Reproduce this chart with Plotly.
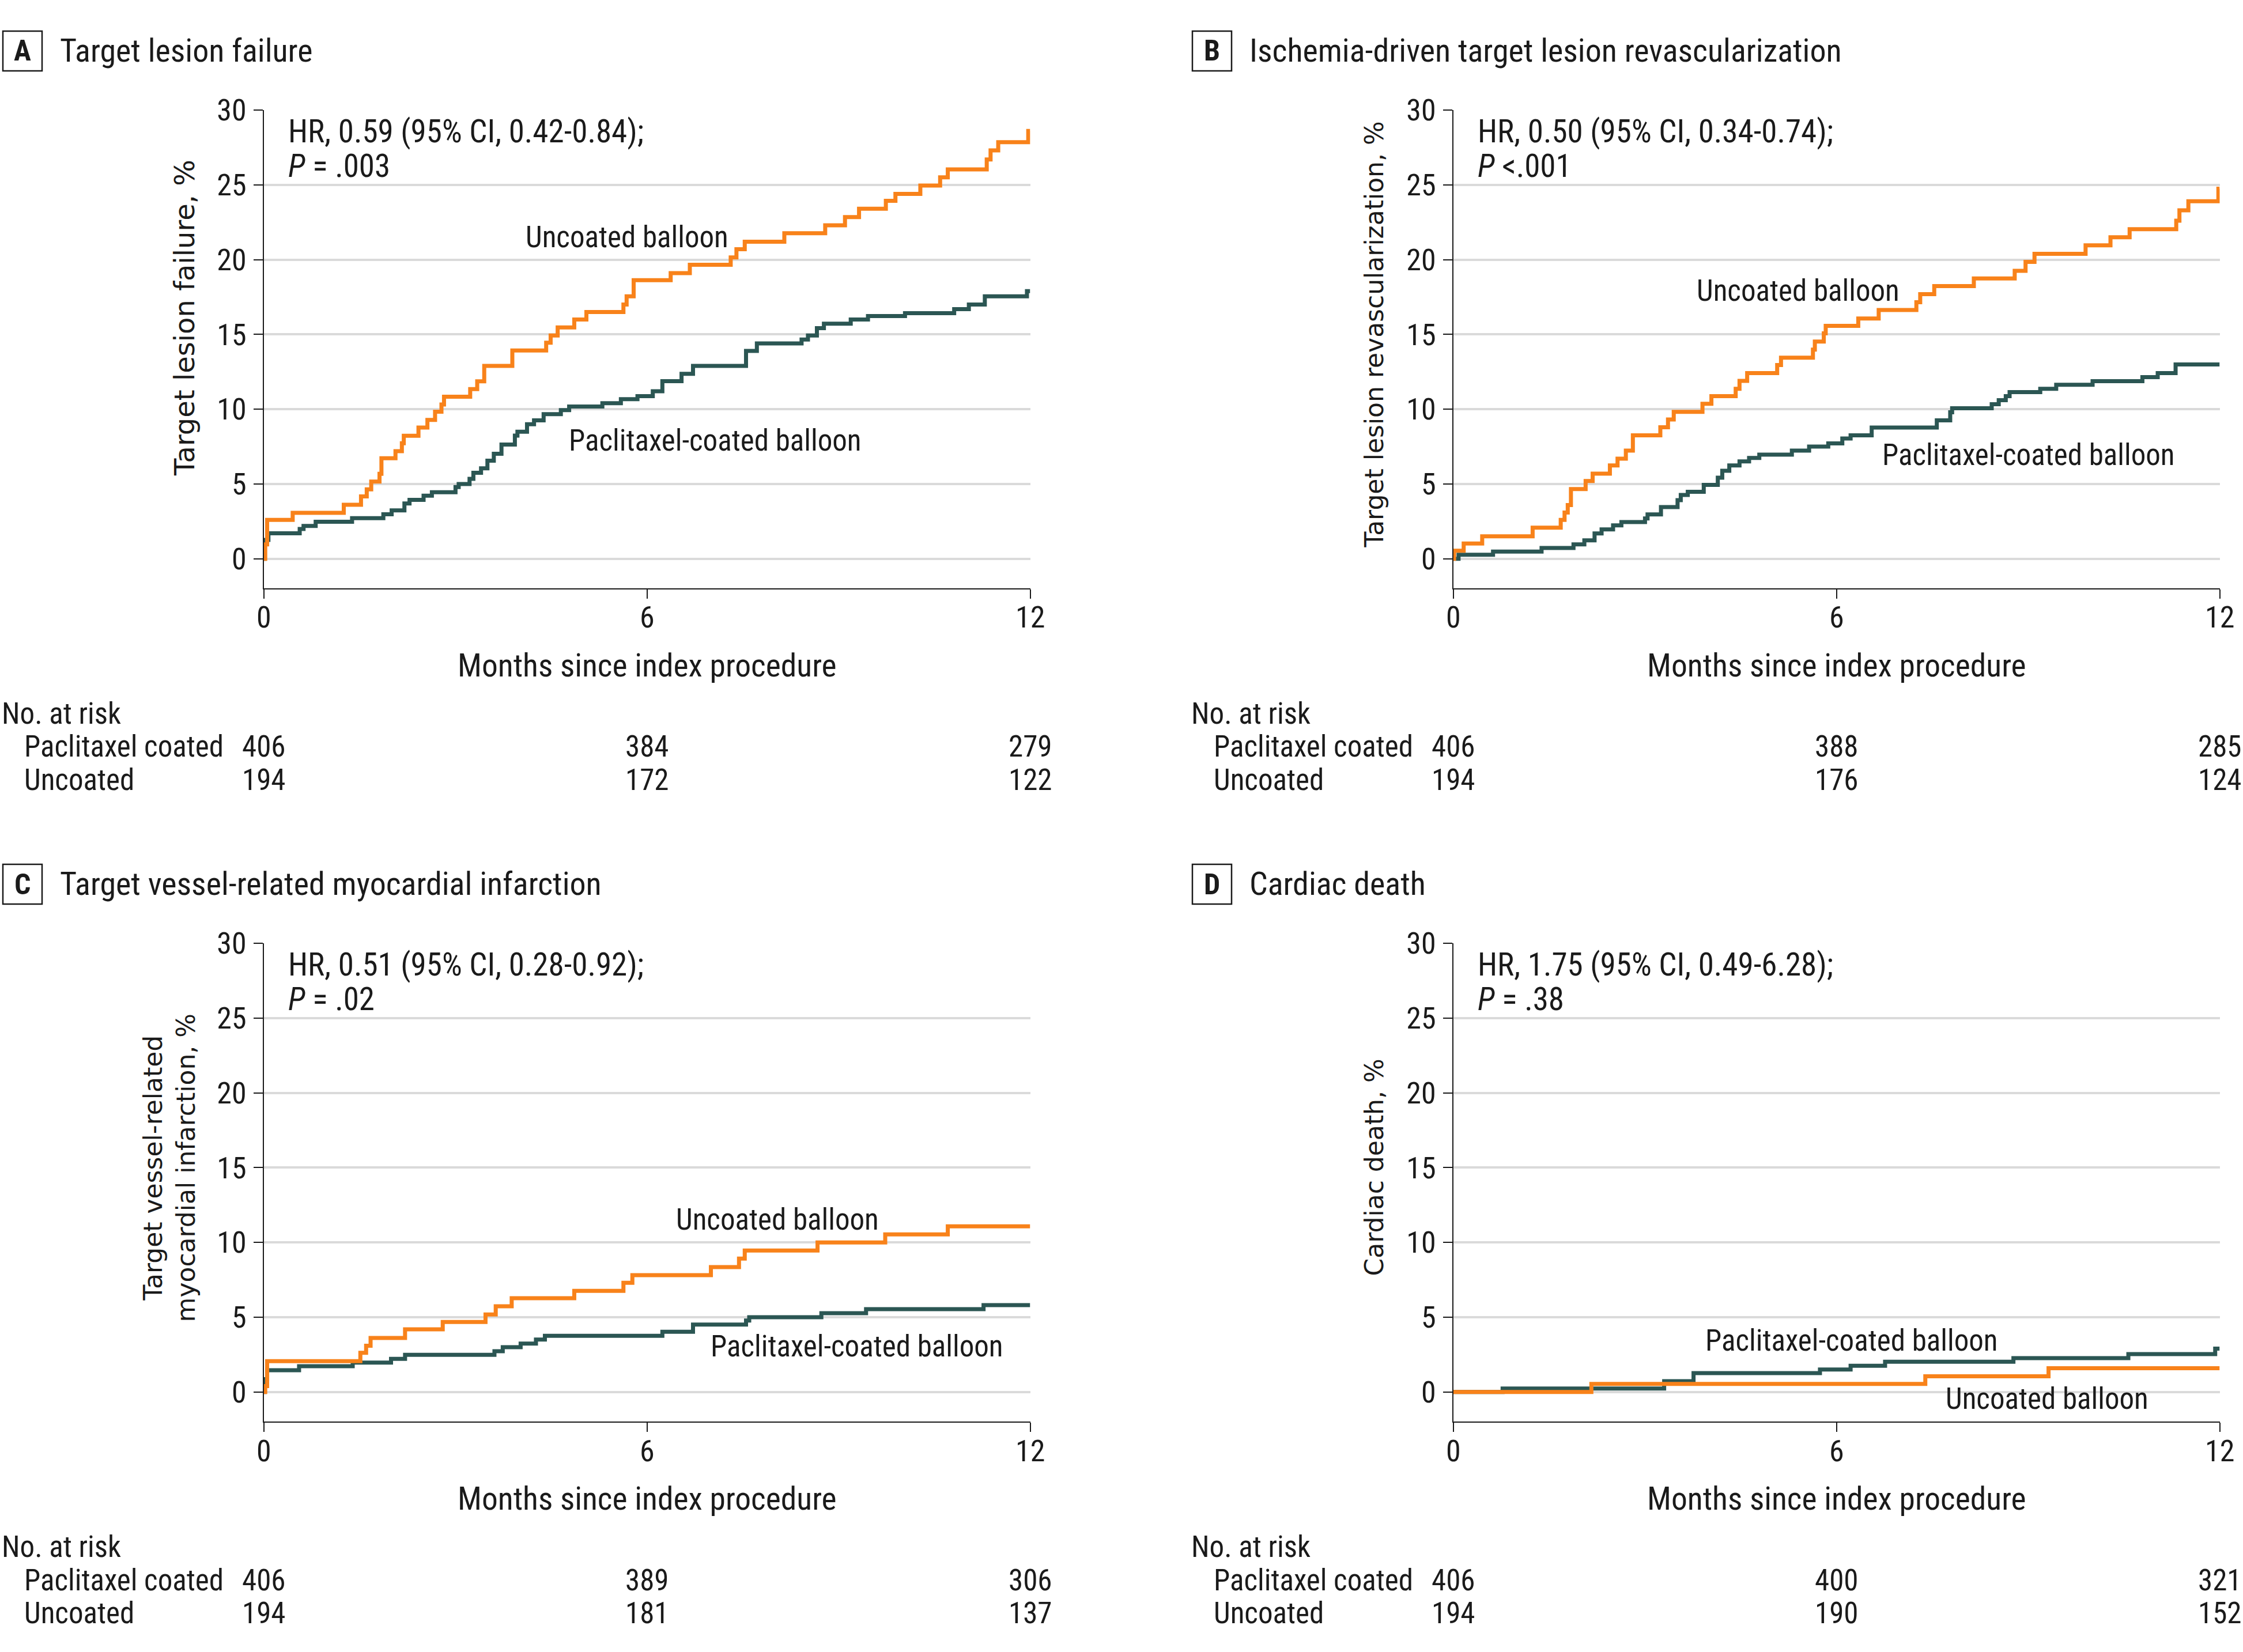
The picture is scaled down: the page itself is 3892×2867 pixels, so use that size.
import plotly.graph_objects as go

W, H = 3892, 2867

# ---------------- data ----------------
MONTH_TICKS = [0, 6, 12]
PCT_TICKS = [0, 5, 10, 15, 20, 25, 30]

PANEL_LETTERS = ["A", "B", "C", "D"]
PANEL_TITLES = [
    "Target lesion failure",
    "Ischemia-driven target lesion revascularization",
    "Target vessel-related myocardial infarction",
    "Cardiac death",
]
Y_TITLES = [
    "Target lesion failure, %",
    "Target lesion revascularization, %",
    "Target vessel-related<br>myocardial infarction, %",
    "Cardiac death, %",
]
HR_TEXT = [
    "HR, 0.59 (95% CI, 0.42-0.84);",
    "HR, 0.50 (95% CI, 0.34-0.74);",
    "HR, 0.51 (95% CI, 0.28-0.92);",
    "HR, 1.75 (95% CI, 0.49-6.28);",
]
P_TEXT = ["<i>P</i> = .003", "<i>P</i> &lt;.001", "<i>P</i> = .02", "<i>P</i> = .38"]
X_TITLE = "Months since index procedure"
GROUP_PCB = "Paclitaxel-coated balloon"
GROUP_UNC = "Uncoated balloon"
RISK_HEADER = "No. at risk"
RISK_ROW_PCB = "Paclitaxel coated"
RISK_ROW_UNC = "Uncoated"

RISK_TIMES = [0, 6, 12]
RISK_PCB = [[406, 384, 279], [406, 388, 285], [406, 389, 306], [406, 400, 321]]
RISK_UNC = [[194, 172, 122], [194, 176, 124], [194, 181, 137], [194, 190, 152]]

# Panel A: target lesion failure
A_UNC_T = [0, 0.02, 0.05, 0.45, 1.25, 1.52, 1.61, 1.68, 1.81, 1.84, 2.06, 2.16, 2.19, 2.42, 2.56,
           2.68, 2.78, 2.82, 3.23, 3.34, 3.45, 3.89, 4.42, 4.49, 4.60, 4.86, 5.05, 5.63, 5.68,
           5.79, 6.37, 6.67, 7.31, 7.40, 7.53, 8.15, 8.79, 9.10, 9.32, 9.74, 9.89, 10.28, 10.59,
           10.71, 11.32, 11.38, 11.50, 11.97, 12.0]
A_UNC_Y = [0, 0.97, 2.6, 3.08, 3.62, 4.17, 4.65, 5.17, 5.69, 6.73, 7.2, 7.73, 8.23, 8.78, 9.29,
           9.84, 10.32, 10.84, 11.35, 11.87, 12.9, 13.93, 14.45, 14.93, 15.47, 16.0, 16.5, 17.0, 17.55,
           18.63, 19.1, 19.66, 20.15, 20.7, 21.2, 21.77, 22.3, 22.85, 23.4, 23.93, 24.4, 24.95, 25.5,
           26.03, 26.7, 27.3, 27.85, 28.6, 28.6]
A_PCB_T = [0, 0.01, 0.07, 0.56, 0.62, 0.81, 1.38, 1.87, 2.00, 2.20, 2.28, 2.50, 2.63, 3.00, 3.05,
           3.22, 3.28, 3.40, 3.50, 3.60, 3.72, 3.93, 3.97, 4.12, 4.23, 4.38, 4.65, 4.78, 5.30, 5.59,
           5.85, 6.09, 6.24, 6.54, 6.72, 7.55, 7.72, 8.42, 8.52, 8.66, 8.77, 9.19, 9.46, 10.04,
           10.81, 11.04, 11.29, 11.95, 12.0]
A_PCB_Y = [0, 1.27, 1.71, 2.0, 2.2, 2.48, 2.72, 2.98, 3.24, 3.70, 3.94, 4.22, 4.45, 4.80, 5.0,
           5.35, 5.75, 6.05, 6.56, 7.02, 7.64, 8.24, 8.5, 9.0, 9.26, 9.67, 9.94, 10.18, 10.4, 10.67,
           10.88, 11.2, 11.88, 12.37, 12.9, 13.9, 14.4, 14.66, 14.93, 15.42, 15.72, 16.0, 16.23, 16.42,
           16.69, 17.0, 17.55, 17.9, 17.9]

# Panel B: ischemia-driven TLR
B_UNC_T = [0, 0.01, 0.16, 0.45, 1.24, 1.68, 1.74, 1.79, 1.84, 2.07, 2.18, 2.45, 2.57, 2.70, 2.81,
           3.24, 3.36, 3.45, 3.90, 4.04, 4.42, 4.48, 4.60, 5.07, 5.13, 5.63, 5.66, 5.80, 5.83, 6.34,
           6.66, 7.25, 7.31, 7.53, 8.15, 8.79, 8.96, 9.10, 9.90, 10.29, 10.59, 11.32, 11.37, 11.51,
           11.98, 12.0]
B_UNC_Y = [0, 0.54, 1.03, 1.51, 2.08, 2.6, 3.1, 3.6, 4.67, 5.2, 5.7, 6.24, 6.7, 7.24, 8.26,
           8.8, 9.32, 9.83, 10.37, 10.88, 11.37, 11.9, 12.42, 12.96, 13.45, 13.99, 14.53, 15.07, 15.58, 16.07,
           16.63, 17.15, 17.69, 18.23, 18.74, 19.25, 19.85, 20.39, 20.96, 21.5, 22.04, 22.6, 23.3, 23.9,
           24.74, 24.74]
B_PCB_T = [0, 0.08, 0.62, 1.38, 1.88, 2.05, 2.21, 2.32, 2.50, 2.63, 3.00, 3.04, 3.25, 3.51, 3.56,
           3.67, 3.92, 4.14, 4.21, 4.32, 4.48, 4.63, 4.79, 5.30, 5.57, 5.87, 6.09, 6.22, 6.55, 7.57,
           7.78, 7.81, 8.43, 8.54, 8.65, 8.71, 9.19, 9.44, 10.01, 10.79, 11.03, 11.31, 12.0]
B_PCB_Y = [0, 0.27, 0.49, 0.73, 0.97, 1.24, 1.70, 1.97, 2.24, 2.46, 2.70, 2.97, 3.46, 3.92, 4.27,
           4.48, 4.94, 5.43, 5.89, 6.24, 6.51, 6.75, 6.97, 7.24, 7.51, 7.72, 8.05, 8.26, 8.78, 9.26,
           9.80, 10.07, 10.34, 10.61, 10.88, 11.15, 11.37, 11.64, 11.88, 12.15, 12.42, 12.99, 12.99]

# Panel C: target vessel-related MI
C_UNC_T = [0, 0.02, 0.05, 1.51, 1.60, 1.67, 2.21, 2.80, 3.47, 3.63, 3.88, 4.86, 5.63, 5.77, 7.00,
           7.44, 7.53, 8.67, 9.73, 10.71, 12.0]
C_UNC_Y = [0, 0.4, 2.07, 2.62, 3.1, 3.62, 4.19, 4.68, 5.19, 5.73, 6.27, 6.76, 7.3, 7.81, 8.35,
           8.92, 9.46, 10.0, 10.54, 11.08, 11.08]
C_PCB_T = [0, 0.01, 0.05, 0.55, 1.39, 1.99, 2.21, 3.61, 3.74, 4.02, 4.26, 4.40, 6.24, 6.72, 7.55,
           7.60, 8.73, 9.43, 11.27, 12.0]
C_PCB_Y = [0, 0.86, 1.46, 1.73, 1.97, 2.22, 2.49, 2.73, 3.0, 3.24, 3.51, 3.76, 4.03, 4.51, 4.78,
           5.0, 5.27, 5.54, 5.81, 5.81]

# Panel D: cardiac death
D_UNC_T = [0, 2.16, 7.39, 9.32, 12.0]
D_UNC_Y = [0, 0.54, 1.05, 1.59, 1.59]
D_PCB_T = [0, 0.77, 3.30, 3.76, 5.74, 6.22, 6.76, 8.77, 10.57, 11.93, 12.0]
D_PCB_Y = [0, 0.24, 0.73, 1.27, 1.51, 1.76, 2.03, 2.27, 2.54, 2.9, 2.9]

CURVES = [
    (A_PCB_T, A_PCB_Y, A_UNC_T, A_UNC_Y),
    (B_PCB_T, B_PCB_Y, B_UNC_T, B_UNC_Y),
    (C_PCB_T, C_PCB_Y, C_UNC_T, C_UNC_Y),
    (D_PCB_T, D_PCB_Y, D_UNC_T, D_UNC_Y),
]

# ---------------- layout / style (positions, sizes) ----------------
ORANGE = "#f8821a"
DARK = "#2b5653"
TXT = "#1a1a1a"
GRID = "#dadada"
FONT = "Roboto Condensed"
YFONT = "DejaVu Sans"
SZ_TITLE = 56
SZ_LETTER = 50
SZ_HR = 55
SZ_TICK = 52
SZ_XTITLE = 55.5
SZ_RISK = 51
SZ_LABEL = 51

# label placement in data coords (month, percent)
LBL_UNC_POS = [(5.69, 21.5), (5.40, 17.94), (8.04, 11.55), (9.30, -0.46)]
LBL_PCB_POS = [(7.07, 7.91), (9.01, 6.96), (9.29, 3.04), (6.24, 3.43)]
YTITLE_SIZE = [48, 44, 44, 44]
YTITLE_CENTER = [16.1, 15, 15, 15]

DX = [0, 2064, 0, 2064]
DY = [0, 0, 1446, 1446]
AX_X0, AX_X1 = 458, 1787.5
AX_TOP, AX_BOT = 191, 1020.5
XTICK_Y = 1072
YMIN, YMAX = -1.95, 30


def pxx(p):
    return p / W


def pxy(p):
    return 1 - p / H


def fnt(size, family=FONT):
    return dict(family=family, size=size, color=TXT)


fig = go.Figure()
annotations = []
shapes = []
layout = dict(
    width=W, height=H, autosize=False, margin=dict(l=0, r=0, t=0, b=0, pad=0, autoexpand=False),
    paper_bgcolor="white", plot_bgcolor="white", showlegend=False,
    font=fnt(SZ_TICK),
)

for i in range(4):
    xa = "x" if i == 0 else f"x{i+1}"
    ya = "y" if i == 0 else f"y{i+1}"
    xkey = "xaxis" if i == 0 else f"xaxis{i+1}"
    ykey = "yaxis" if i == 0 else f"yaxis{i+1}"
    dx, dy = DX[i], DY[i]
    layout[xkey] = dict(
        domain=[pxx(AX_X0 + dx), pxx(AX_X1 + dx)], anchor=ya, range=[0, 12], automargin=False,
        tickvals=MONTH_TICKS, showticklabels=False,
        ticks="outside", ticklen=16, tickwidth=2, tickcolor=TXT,
        showline=True, linewidth=2, linecolor=TXT, showgrid=False, zeroline=False,
    )
    layout[ykey] = dict(
        domain=[pxy(AX_BOT + dy), pxy(AX_TOP + dy)], anchor=xa, range=[YMIN, YMAX], automargin=False,
        tickvals=PCT_TICKS, ticktext=[str(v) for v in PCT_TICKS],
        ticks="outside", ticklen=16, tickwidth=2, tickcolor=TXT,
        showline=True, linewidth=2, linecolor=TXT, showgrid=True, gridcolor=GRID, gridwidth=4,
        zeroline=False, tickfont=fnt(SZ_TICK), ticklabelstandoff=2,
    )
    # x tick labels (placed at tick values)
    for t in MONTH_TICKS:
        annotations.append(dict(text=str(t), xref=xa, yref="paper", x=t, y=pxy(XTICK_Y + dy),
                                showarrow=False, xanchor="center", yanchor="middle", font=fnt(SZ_TICK)))

    pt, py_, ut, uy = CURVES[i]
    fig.add_trace(go.Scatter(x=pt, y=py_, mode="lines", line=dict(color=DARK, width=7, shape="hv"),
                             xaxis=xa, yaxis=ya, name=GROUP_PCB, hoverinfo="skip"))
    fig.add_trace(go.Scatter(x=ut, y=uy, mode="lines", line=dict(color=ORANGE, width=7, shape="hv"),
                             xaxis=xa, yaxis=ya, name=GROUP_UNC, hoverinfo="skip"))

    # panel letter box + title
    shapes.append(dict(type="rect", xref="paper", yref="paper",
                       x0=pxx(5 + dx), x1=pxx(73 + dx), y0=pxy(123 + dy), y1=pxy(54 + dy),
                       line=dict(color=TXT, width=2.5), fillcolor="white"))
    annotations.append(dict(text=f"<b>{PANEL_LETTERS[i]}</b>", xref="paper", yref="paper",
                            x=pxx(39 + dx), y=pxy(88.5 + dy), showarrow=False,
                            xanchor="center", yanchor="middle", font=fnt(SZ_LETTER)))
    annotations.append(dict(text=PANEL_TITLES[i], xref="paper", yref="paper",
                            x=pxx(102 + dx), y=pxy(88 + dy), showarrow=False,
                            xanchor="left", yanchor="middle", font=fnt(SZ_TITLE)))

    # HR / P text
    annotations.append(dict(text=HR_TEXT[i], xref=xa, yref=ya, x=0.36, y=28.57, showarrow=False,
                            xanchor="left", yanchor="middle", font=fnt(SZ_HR)))
    annotations.append(dict(text=P_TEXT[i], xref=xa, yref=ya, x=0.36, y=26.26, showarrow=False,
                            xanchor="left", yanchor="middle", font=fnt(SZ_HR)))

    # curve labels
    annotations.append(dict(text=GROUP_UNC, xref=xa, yref=ya, x=LBL_UNC_POS[i][0], y=LBL_UNC_POS[i][1],
                            showarrow=False, xanchor="center", yanchor="middle", font=fnt(SZ_LABEL)))
    annotations.append(dict(text=GROUP_PCB, xref=xa, yref=ya, x=LBL_PCB_POS[i][0], y=LBL_PCB_POS[i][1],
                            showarrow=False, xanchor="center", yanchor="middle", font=fnt(SZ_LABEL)))

    # y-axis title
    ytx = (294 if i == 2 else 320) + dx
    annotations.append(dict(text=Y_TITLES[i], xref="paper", yref=ya, x=pxx(ytx), y=YTITLE_CENTER[i],
                            showarrow=False, textangle=-90, xanchor="center", yanchor="middle",
                            font=fnt(YTITLE_SIZE[i], YFONT)))

    # x-axis title
    annotations.append(dict(text=X_TITLE, xref="paper", yref="paper",
                            x=pxx((AX_X0 + AX_X1) / 2 + dx), y=pxy(1155 + dy), showarrow=False,
                            xanchor="center", yanchor="middle", font=fnt(SZ_XTITLE)))

    # number at risk table
    annotations.append(dict(text=RISK_HEADER, xref="paper", yref="paper", x=pxx(1 + dx), y=pxy(1238 + dy),
                            showarrow=False, xanchor="left", yanchor="middle", font=fnt(SZ_RISK)))
    annotations.append(dict(text=RISK_ROW_PCB, xref="paper", yref="paper", x=pxx(40 + dx), y=pxy(1296 + dy),
                            showarrow=False, xanchor="left", yanchor="middle", font=fnt(SZ_RISK)))
    annotations.append(dict(text=RISK_ROW_UNC, xref="paper", yref="paper", x=pxx(40 + dx), y=pxy(1353 + dy),
                            showarrow=False, xanchor="left", yanchor="middle", font=fnt(SZ_RISK)))
    for t, npcb, nunc in zip(RISK_TIMES, RISK_PCB[i], RISK_UNC[i]):
        annotations.append(dict(text=str(npcb), xref=xa, yref="paper", x=t, y=pxy(1296 + dy),
                                showarrow=False, xanchor="center", yanchor="middle", font=fnt(SZ_RISK)))
        annotations.append(dict(text=str(nunc), xref=xa, yref="paper", x=t, y=pxy(1353 + dy),
                                showarrow=False, xanchor="center", yanchor="middle", font=fnt(SZ_RISK)))

layout["annotations"] = annotations
layout["shapes"] = shapes
fig.update_layout(**layout)
fig.write_html("out.html", config={"displayModeBar": False},
               post_script="document.body.style.margin='0';document.body.style.overflow='hidden';")
